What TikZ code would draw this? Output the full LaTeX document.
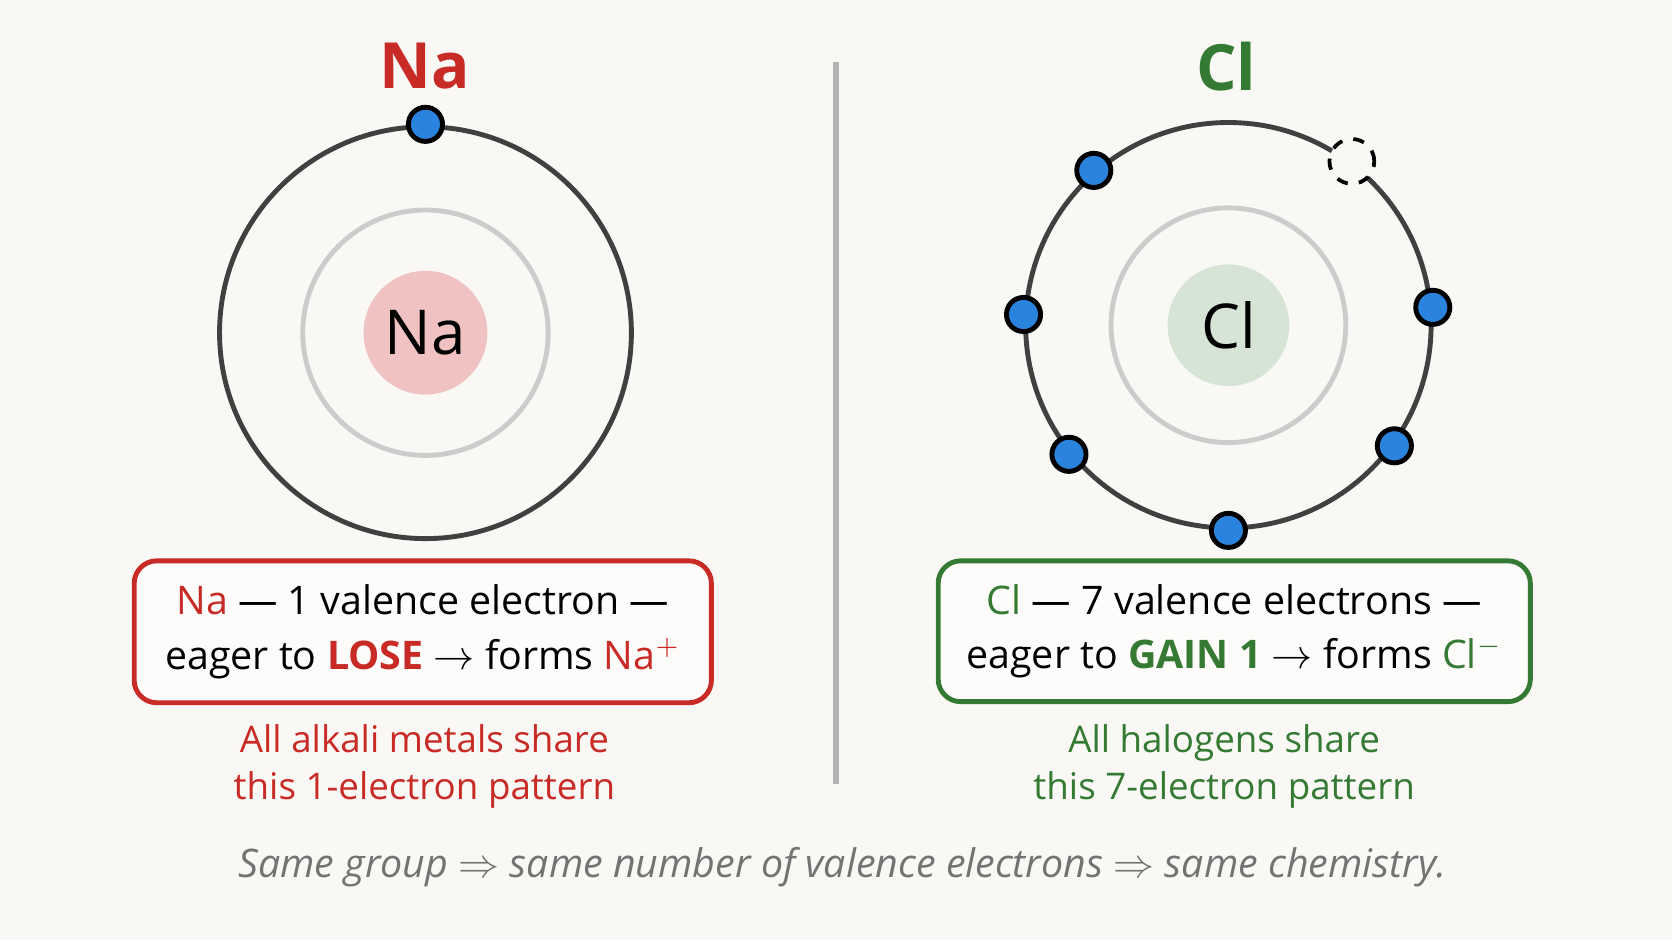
\documentclass[tikz,border=0pt]{standalone}
\usepackage{fontspec}
\setmainfont{Open Sans}
\usepackage{amsmath}
\definecolor{nared}{RGB}{200,42,38}
\definecolor{clgreen}{RGB}{52,122,50}
\definecolor{eblue}{RGB}{42,132,222}
\definecolor{paper}{RGB}{250,248,245}

\begin{document}
\begin{tikzpicture}[x=0.01cm,y=-0.01cm]
    \tikzstyle{shell} = [circle, draw=black!75, line width=1.3pt, fill=none]
    \tikzstyle{inner} = [circle, draw=black!20, line width=1.3pt]
    \tikzstyle{electron} = [circle, draw=black, line width=1.3pt, fill=eblue, minimum size=0.32cm, inner sep=0pt]
    \tikzstyle{hole} = [circle, draw=black, dashed, line width=1pt, minimum size=0.42cm, inner sep=0pt]
    \tikzstyle{infobox} = [rectangle, rounded corners=6pt, line width=1.3pt, fill=white!60!paper, align=center, font=\fontsize{10.5}{14.5}\selectfont]
    \tikzstyle{caption} = [align=center, font=\fontsize{9.8}{12.5}\selectfont]

    \fill[paper] (0,0) rectangle (1568,882);
    \useasboundingbox (0,0) rectangle (1568,882);

    % sodium
    \node[text=nared, font=\fontsize{17}{20}\selectfont\bfseries] (natitle) at (398,62) {Na};
    \node[shell, minimum size=3.86cm] (naouter) at (399,312) {};
    \node[inner, minimum size=2.3cm] (nainner) at (399,312) {};
    \node[circle, fill=nared!28, minimum size=1.16cm, inner sep=0pt, font=\fontsize{16.5}{18}\selectfont] (nanuc) at (399,312) {Na};
    \node[electron] (nae) at (naouter.90) {};

    \draw[black!30, line width=1.5pt] (784,58) -- (784,735);

    % chlorine
    \node[text=clgreen, font=\fontsize{17}{20}\selectfont\bfseries] (cltitle) at (1150,62) {Cl};
    \node[shell, minimum size=3.8cm] (clouter) at (1152,305) {};
    \node[inner, minimum size=2.2cm] (clinner) at (1152,305) {};
    \node[circle, fill=clgreen!20, minimum size=1.14cm, inner sep=0pt, font=\fontsize{16.5}{18}\selectfont] (clnuc) at (1152,305) {Cl};
    \foreach \a/\n in {131/a, 177/b, 219/c, 270/d, 324/e, 5/f}
        \node[electron] (cle\n) at (clouter.\a) {};
    \node[hole, fill=paper] (clhole) at (clouter.53) {};

    % boxes
    \node[infobox, draw=nared, minimum width=5.41cm, minimum height=1.33cm] (nabox) at (396.5,592.5)
        {{\color{nared}Na} --- 1 valence electron ---\\
         eager to {\color{nared}\textbf{LOSE}} $\rightarrow$ forms {\color{nared}Na$^{+}$}};
    \node[infobox, draw=clgreen, minimum width=5.55cm, minimum height=1.32cm] (clbox) at (1157.5,592)
        {{\color{clgreen}Cl} --- 7 valence electrons ---\\
         eager to {\color{clgreen}\textbf{GAIN 1}} $\rightarrow$ forms {\color{clgreen}Cl$^{-}$}};

    \node[caption, text=nared] (nacap) at (398,719) {All alkali metals share\\this 1-electron pattern};
    \node[caption, text=clgreen] (clcap) at (1148,719) {All halogens share\\this 7-electron pattern};

    \node[text=black!55, font=\fontsize{10.5}{12}\selectfont\itshape] (moral) at (790,813)
        {Same group $\Rightarrow$ same number of valence electrons $\Rightarrow$ same chemistry.};
\end{tikzpicture}
\end{document}
